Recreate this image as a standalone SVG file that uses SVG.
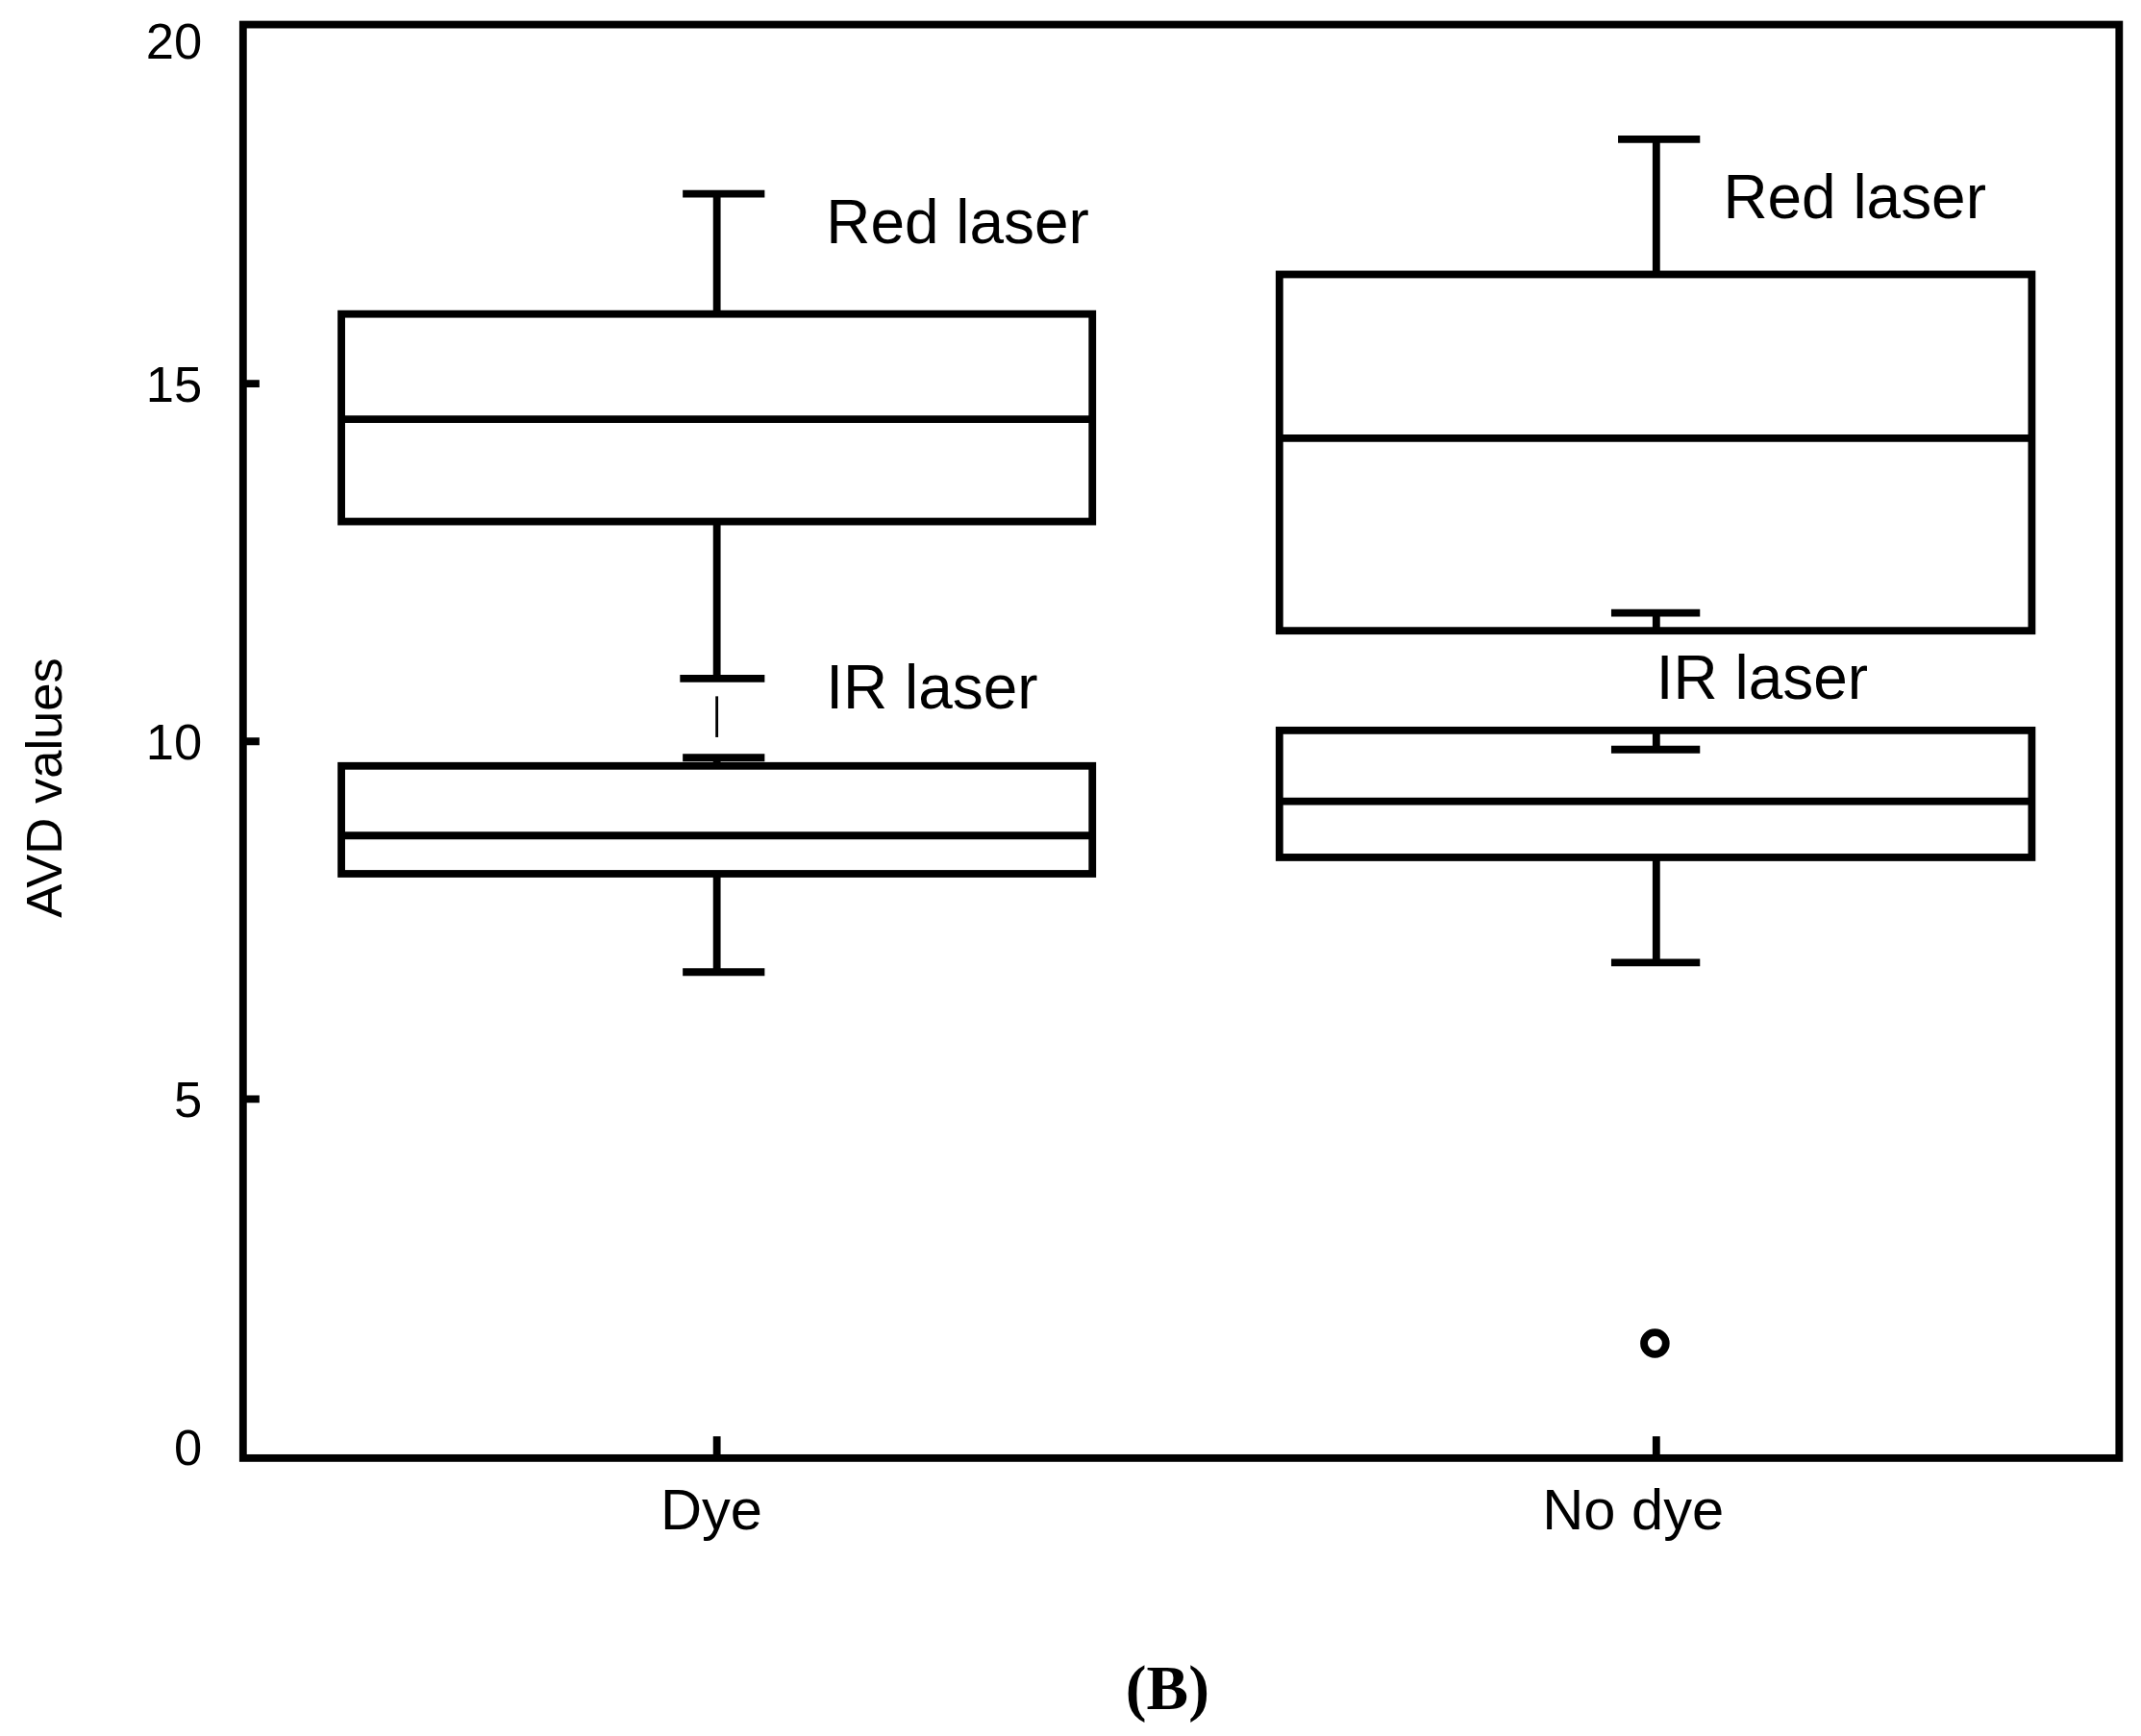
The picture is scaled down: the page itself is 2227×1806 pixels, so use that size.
<svg xmlns="http://www.w3.org/2000/svg" width="2227" height="1806" viewBox="0 0 2227 1806">
<style>
.l{stroke:#000;stroke-width:5.5;fill:none}
.t{font-family:"Liberation Sans",Arial,sans-serif;font-size:45px;fill:#000}
.x{font-family:"Liberation Sans",Arial,sans-serif;font-size:42px;fill:#000}
.a{font-family:"Liberation Sans",Arial,sans-serif;font-size:37px;fill:#000}
</style>
<rect width="2227" height="1806" fill="#fff"/>
<g transform="scale(1.4203)">
<g id="axes">
<rect class="l" x="178" y="18" width="1374" height="1050"/>
<path class="l" d="M178 281h12M178 543h12M178 805h12M525 1052v16M1213 1052v16"/>
<text class="a" x="148" y="43" text-anchor="end">20</text>
<text class="a" x="148" y="294" text-anchor="end">15</text>
<text class="a" x="148" y="556" text-anchor="end">10</text>
<text class="a" x="148" y="818" text-anchor="end">5</text>
<text class="a" x="148" y="1073" text-anchor="end">0</text>
<text class="a" transform="translate(45 577) rotate(-90)" text-anchor="middle">AVD values</text>
<text class="x" x="521" y="1120" text-anchor="middle">Dye</text>
<text class="x" x="1196" y="1120" text-anchor="middle">No dye</text>
</g>
<g id="dye-red">
<rect class="l" x="250" y="230" width="550" height="152"/>
<path class="l" d="M250 307h550M525 230v-88M500 142h60M525 382v115M498 497h62"/>
<text class="t" x="605" y="178">Red laser</text>
</g>
<g id="dye-ir">
<rect class="l" x="250" y="561" width="550" height="79"/>
<path class="l" d="M250 612h550M525 561v-6M500 555h60M525 640v72M500 712h60"/>
<path d="M525 510v30" stroke="#000" stroke-width="2"/>
<text class="t" x="605" y="519">IR laser</text>
</g>
<g id="nodye-red">
<rect class="l" x="937" y="201" width="551" height="261"/>
<path class="l" d="M937 321h551M1213 201v-99M1185 102h60M1213 462v-13M1180 449h65"/>
<text class="t" x="1262" y="160">Red laser</text>
</g>
<g id="nodye-ir">
<rect class="l" x="937" y="535" width="551" height="93"/>
<path class="l" d="M937 587h551M1213 535v14M1180 549h65M1213 628v77M1180 705h65"/>
<text class="t" x="1213" y="512">IR laser</text>
</g>
<g id="outlier"><circle class="l" cx="1212" cy="984" r="8"/></g>
<text x="855" y="1252" text-anchor="middle" font-family="Liberation Serif,serif" font-size="46" font-weight="bold">(B)</text>
</g>
</svg>
